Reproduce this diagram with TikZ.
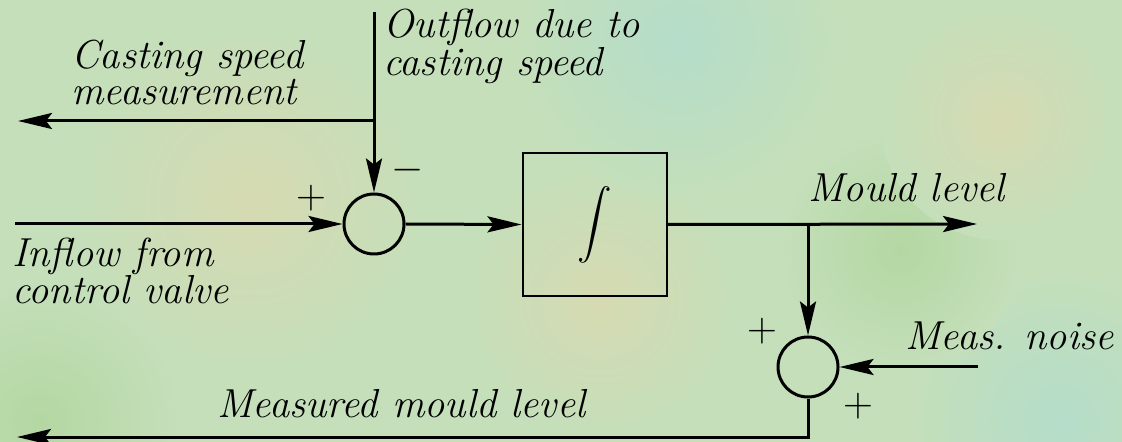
\documentclass[tikz,border=0pt]{standalone}
\usepackage{exscale}
\usetikzlibrary{arrows.meta}
\definecolor{bgbase}{RGB}{196,223,186}
\definecolor{bgbeige}{RGB}{214,218,178}
\definecolor{bgteal}{RGB}{180,221,202}
\definecolor{bggreen}{RGB}{180,215,162}
\tikzset{
  sig/.style={line width=1.5pt},
  arr/.style={sig,-{Stealth[length=17pt,width=8pt,inset=3pt]}},
  sumnode/.style={circle,draw,line width=1.5pt,minimum size=30pt,inner sep=0pt},
  blockbox/.style={draw,line width=1pt,minimum width=72pt,minimum height=71.5pt,inner sep=0pt},
  lbl/.style={inner sep=0pt,anchor=base west,align=left,font=\fontsize{20.25}{23}\selectfont\itshape},
  sgn/.style={inner sep=0pt,font=\fontsize{20.25}{23}\selectfont},
}
\begin{document}
\begin{tikzpicture}[x=0.5pt,y=-0.5pt]
\useasboundingbox (0,0) rectangle (1122,442);
% background
\fill[bgbase] (0,0) rectangle (1122,442);
\begin{scope}
\clip (0,0) rectangle (1122,442);
\shade[inner color=bgbeige,outer color=bgbase] (250,200) circle (180);
\shade[inner color=bgbeige,outer color=bgbase] (600,300) circle (140);
\shade[inner color=bgteal,outer color=bgbase] (680,40) circle (160);
\shade[inner color=bgteal,outer color=bgbase] (1060,420) circle (150);
\shade[inner color=bggreen,outer color=bgbase] (40,420) circle (140);
\shade[inner color=bggreen,outer color=bgbase] (900,250) circle (120);
\shade[inner color=bgbeige,outer color=bgbase] (1000,120) circle (120);
\end{scope}
% blocks
\node[sumnode] (s1) at (374,224) {};
\node[blockbox] (int) at (594.5,224.5) {\fontsize{17.5}{20}\selectfont$\displaystyle\int$};
\node[sumnode] (s2) at (808,367) {};
% coordinates
\coordinate (top) at (374,12);
\coordinate (br1) at (374,121);
\coordinate (csm) at (18,121);
\coordinate (inL) at (15,224);
\coordinate (outR) at (977,224);
\coordinate (br2) at (808,224);
\coordinate (noise) at (978,367);
\coordinate (corner) at (808,437);
\coordinate (measL) at (17,437);
% connectors
\draw[arr] (top) -- (s1.north);
\draw[arr] (br1) -- (csm);
\draw[arr] (inL) -- (s1.west);
\draw[arr] (s1.east) -- (int.west);
\draw[arr] (int.east) -- (outR);
\draw[arr] (br2) -- (s2.north);
\draw[arr] (noise) -- (s2.east);
\draw[arr] (s2.south) -- (corner) -- (measL);
% labels (anchor = baseline of the last line)
\node[lbl,font=\fontsize{20.25}{18}\selectfont\itshape] (lcs) at (71,105) {Casting speed\\measurement};
\node[lbl,font=\fontsize{20.25}{14}\selectfont\itshape] (lout) at (383,76) {Outflow due to\\casting speed};
\node[lbl,font=\fontsize{20.25}{18.5}\selectfont\itshape] (lin) at (12,304) {Inflow from\\control valve};
\node[lbl] (lml) at (808,202) {Mould level};
\node[lbl] (lmn) at (905,350) {Meas. noise};
\node[lbl] (lmml) at (217,417) {Measured mould level};
% signs
\node[sgn] (p1) at (311,198) {$+$};
\node[sgn] (m1) at (408,170) {$-$};
\node[sgn] (p2) at (762,331) {$+$};
\node[sgn] (p3) at (858,406) {$+$};
\end{tikzpicture}
\end{document}
